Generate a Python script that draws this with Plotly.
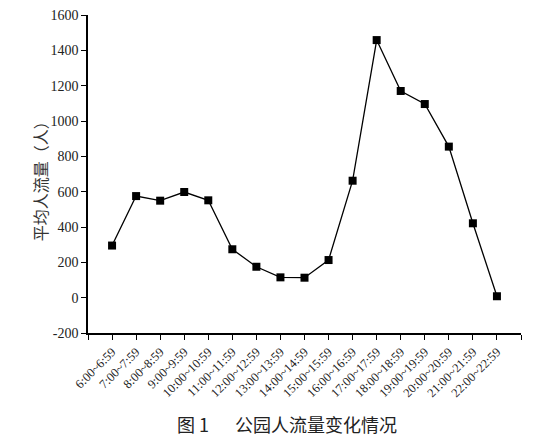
import plotly.graph_objects as go

categories = ["6:00~6:59", "7:00~7:59", "8:00~8:59", "9:00~9:59", "10:00~10:59",
              "11:00~11:59", "12:00~12:59", "13:00~13:59", "14:00~14:59", "15:00~15:59",
              "16:00~16:59", "17:00~17:59", "18:00~18:59", "19:00~19:59", "20:00~20:59",
              "21:00~21:59", "22:00~22:59"]
values = [295, 575, 549, 598, 551, 274, 175, 115, 113, 213, 662, 1458, 1170, 1096, 855, 421, 8]
y_ticks = [-200, 0, 200, 400, 600, 800, 1000, 1200, 1400, 1600]

idx = list(range(len(categories)))

fig = go.Figure()
fig.add_trace(go.Scatter(
    x=idx, y=values, mode="lines+markers",
    line=dict(color="black", width=1.3),
    marker=dict(symbol="square", size=8, color="black"),
    showlegend=False,
))

serif = "Liberation Serif"
fig.update_layout(
    width=544, height=431,
    margin=dict(l=80, r=31, t=7, b=106, autoexpand=False),
    paper_bgcolor="white", plot_bgcolor="white",
    font=dict(family=serif, color="#222"),
    xaxis=dict(
        automargin=False, ticklabeloverflow="allow",
        range=[-1, len(categories)],
        tickmode="array", tickvals=idx, ticktext=categories,
        tickangle=-45, tickfont=dict(size=12.5, family=serif),
        ticks="outside", ticklen=5, tickwidth=1.2, tickcolor="black",
        showline=True, linecolor="black", linewidth=1.5,
        showgrid=False, zeroline=False,
        minor=dict(tickmode="linear", tick0=-1, dtick=1, ticks="outside", ticklen=5,
                   tickwidth=1.2, tickcolor="black", showgrid=False),
    ),
    yaxis=dict(
        automargin=False, ticklabeloverflow="allow",
        range=[-200, 1600],
        tickmode="array", tickvals=y_ticks, ticktext=[str(v) for v in y_ticks],
        tickfont=dict(size=14, family=serif),
        ticks="outside", ticklen=5, tickwidth=1.2, tickcolor="black",
        showline=True, linecolor="black", linewidth=1.5,
        showgrid=False, zeroline=False,
    ),
    annotations=[
        dict(
            text="平均人流量（人）", x=0, y=0.49, xref="paper", yref="paper",
            xanchor="center", yanchor="middle", xshift=-48, textangle=-90, showarrow=False,
            font=dict(size=16, family="Noto Sans CJK SC", color="#333"),
        ),
        dict(
            text="图 1　  公园人流量变化情况", x=0.46, y=0, xref="paper", yref="paper",
            xanchor="center", yanchor="middle", yshift=-91, showarrow=False,
            font=dict(size=18, family="Noto Sans CJK SC", color="#222"),
        ),
    ],
)

fig.write_html("out.html")
